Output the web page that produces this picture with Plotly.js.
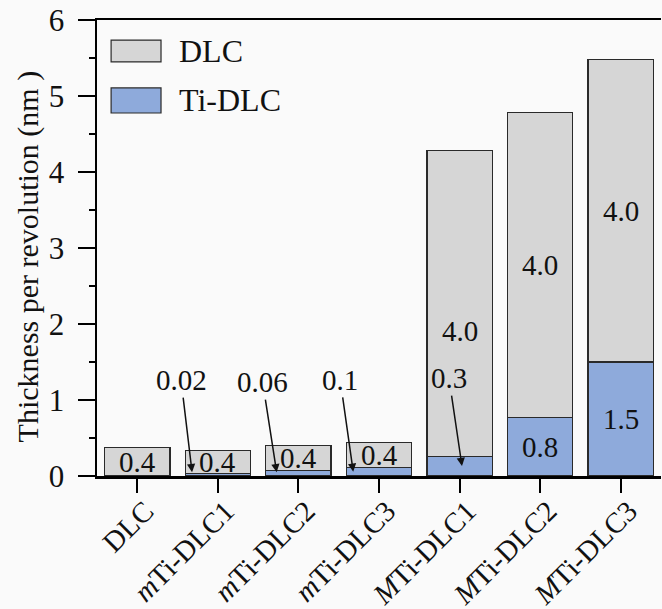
<!DOCTYPE html>
<html>
<head>
<meta charset="utf-8">
<script src="https://cdn.plot.ly/plotly-3.0.1.min.js"></script>
<style>html,body{margin:0;padding:0;background:#fafafa;}</style>
</head>
<body>
<div id="chart" style="width:662px;height:609px;"></div>
<script>
// ---- data ----
const categories = ['DLC', '<i>m</i>Ti-DLC1', '<i>m</i>Ti-DLC2', '<i>m</i>Ti-DLC3', '<i>M</i>Ti-DLC1', '<i>M</i>Ti-DLC2', '<i>M</i>Ti-DLC3'];
const tiValues  = [0, 0.03, 0.07, 0.11, 0.26, 0.77, 1.50];
const dlcValues = [0.37, 0.31, 0.33, 0.33, 4.02, 4.01, 3.98];
const dlcLabels = ['0.4', '0.4', '0.4', '0.4', '4.0', '4.0', '4.0'];
const tiLabels  = ['', '0.02', '0.06', '0.1', '0.3', '0.8', '1.5'];
const yTicks = [0, 1, 2, 3, 4, 5, 6];
const yTitle = 'Thickness per revolution (nm )';

// ---- styling / placement config ----
const FONT = "'Liberation Serif', 'Times New Roman', serif";
const grayFill = '#d6d6d6';
const blueFill = '#8eaadb';
const edge = '#2a2a2a';
const arrowCfg = {1: {dx: -0.32, ax: -11, ay: -92}, 2: {dx: -0.27, ax: -14, ay: -90}, 3: {dx: -0.32, ax: -13, ay: -92}, 4: {dx: 0.03, ax: -13, ay: -88}};
const dlcLabelShift = {4: -28};

const traces = [
  {type: 'bar', name: 'Ti-DLC', x: categories, y: tiValues,
   marker: {color: blueFill, line: {color: edge, width: 1.2}}},
  {type: 'bar', name: 'DLC', x: categories, y: dlcValues,
   marker: {color: grayFill, line: {color: edge, width: 1.2}}}
];

const annotations = [];
categories.forEach((c, i) => {
  annotations.push({
    x: i, y: tiValues[i] + dlcValues[i] / 2, xref: 'x', yref: 'y',
    text: dlcLabels[i], showarrow: false, yshift: dlcLabelShift[i] || 0,
    font: {family: FONT, size: 29, color: '#111'}
  });
  if (!tiLabels[i]) return;
  if (arrowCfg[i]) {
    const a = arrowCfg[i];
    annotations.push({
      x: i + a.dx, y: Math.max(tiValues[i] * 0.5, 0.05), xref: 'x', yref: 'y',
      text: tiLabels[i], showarrow: true, ax: a.ax, ay: a.ay,
      arrowhead: 2, arrowsize: 1.1, arrowwidth: 1.5, arrowcolor: '#111',
      font: {family: FONT, size: 29, color: '#111'}
    });
  } else {
    annotations.push({
      x: i, y: tiValues[i] / 2, xref: 'x', yref: 'y',
      text: tiLabels[i], showarrow: false,
      font: {family: FONT, size: 29, color: '#111'}
    });
  }
});

// y-axis title placed as a rotated annotation
annotations.push({xref: 'paper', yref: 'paper', x: -0.122, y: 0.482, xanchor: 'center', yanchor: 'middle',
  text: yTitle, textangle: -90, showarrow: false, font: {family: FONT, size: 30, color: '#111'}});

// custom legend (large swatches)
const legendItems = [
  {name: 'DLC', color: grayFill, y0: 0.908, y1: 0.956},
  {name: 'Ti-DLC', color: blueFill, y0: 0.796, y1: 0.851}
];
const shapes = [];
legendItems.forEach(it => {
  shapes.push({type: 'rect', xref: 'paper', yref: 'paper', x0: 0.025, x1: 0.1135, y0: it.y0, y1: it.y1,
    fillcolor: it.color, line: {color: edge, width: 1.2}});
  annotations.push({xref: 'paper', yref: 'paper', x: 0.141, y: (it.y0 + it.y1) / 2,
    xanchor: 'left', yanchor: 'middle', text: it.name, showarrow: false,
    font: {family: FONT, size: 32, color: '#111'}});
});

const layout = {
  width: 662, height: 609,
  margin: {l: 97, r: 1, t: 20, b: 133, pad: 0},
  paper_bgcolor: '#fafafa', plot_bgcolor: '#fafafa',
  barmode: 'stack', bargap: 0.19, showlegend: false,
  font: {family: FONT, color: '#111'},
  xaxis: {
    type: 'category', range: [-0.5, 6.5], tickangle: -45,
    showline: true, linecolor: '#000', linewidth: 2.5, mirror: true,
    ticks: 'outside', ticklen: 14, tickwidth: 2, tickcolor: '#000',
    ticklabelstandoff: -10, ticklabelshift: 8,
    tickfont: {family: FONT, size: 29, color: '#111'}, showgrid: false, zeroline: false
  },
  yaxis: {
    range: [0, 6], tickvals: yTicks,
    showline: true, linecolor: '#000', linewidth: 2.5,
    ticks: 'outside', ticklen: 17, tickwidth: 2, tickcolor: '#000',
    minor: {dtick: 0.5, ticks: 'outside', ticklen: 6, tickwidth: 2, tickcolor: '#000', showgrid: false},
    ticklabelstandoff: 7,
    tickfont: {family: FONT, size: 31, color: '#111'}, showgrid: false, zeroline: false
  },
  annotations: annotations,
  shapes: shapes
};

Plotly.newPlot('chart', traces, layout, {displayModeBar: false, staticPlot: true});
</script>
</body>
</html>
